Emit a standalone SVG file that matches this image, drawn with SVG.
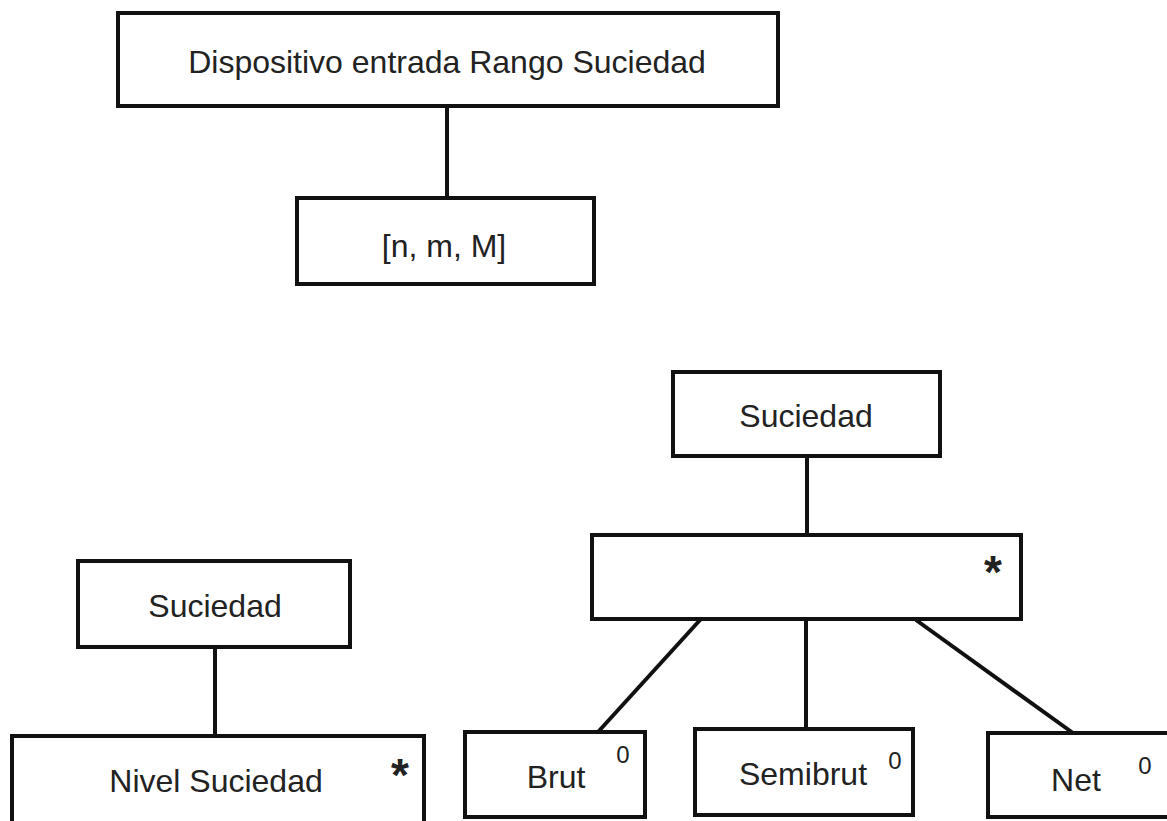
<svg xmlns="http://www.w3.org/2000/svg" width="1167" height="821" viewBox="0 0 1167 821">
<style>
.box{fill:#fff;stroke:#111;stroke-width:4}
.lbl{font-family:"Liberation Sans",Arial,sans-serif;font-size:32px;fill:#222;text-anchor:middle}
.sup{font-family:"Liberation Sans",Arial,sans-serif;font-size:24px;fill:#222;text-anchor:middle}
.star{font-family:"Liberation Sans",Arial,sans-serif;font-size:46px;font-weight:bold;fill:#222;text-anchor:middle}
.conn{stroke:#111;stroke-width:4;fill:none}
</style>
<rect width="1167" height="821" fill="#fff"/>
<g id="connectors">
<line class="conn" x1="447" y1="106" x2="447" y2="198"/>
<line class="conn" x1="807" y1="456" x2="807" y2="535"/>
<line class="conn" x1="700" y1="620" x2="598" y2="732"/>
<line class="conn" x1="806" y1="619" x2="806" y2="729"/>
<line class="conn" x1="916" y1="620" x2="1073" y2="733"/>
<line class="conn" x1="215" y1="647" x2="215" y2="736"/>
</g>
<g id="node-dispositivo">
<rect class="box" x="118" y="13" width="660" height="93"/>
<text class="lbl" x="447" y="73">Dispositivo entrada Rango Suciedad</text>
</g>
<g id="node-rango">
<rect class="box" x="297" y="198" width="297" height="86"/>
<text class="lbl" x="444" y="257">[n, m, M]</text>
</g>
<g id="node-suciedad-right">
<rect class="box" x="673" y="372" width="267" height="84"/>
<text class="lbl" x="806" y="427">Suciedad</text>
</g>
<g id="node-star">
<rect class="box" x="592" y="535" width="429" height="84"/>
<text class="star" x="993" y="588">*</text>
</g>
<g id="node-brut">
<rect class="box" x="465" y="732" width="180" height="85"/>
<text class="lbl" x="556" y="788">Brut</text>
<text class="sup" x="623" y="763">0</text>
</g>
<g id="node-semibrut">
<rect class="box" x="695" y="729" width="218" height="86"/>
<text class="lbl" x="803" y="785">Semibrut</text>
<text class="sup" x="895" y="769">0</text>
</g>
<g id="node-net">
<rect class="box" x="988" y="733" width="184" height="84"/>
<text class="lbl" x="1076" y="791">Net</text>
<text class="sup" x="1145" y="774">0</text>
</g>
<g id="node-suciedad-left">
<rect class="box" x="78" y="561" width="272" height="86"/>
<text class="lbl" x="215" y="617">Suciedad</text>
</g>
<g id="node-nivel">
<rect class="box" x="12" y="736" width="412" height="90"/>
<text class="lbl" x="216" y="792">Nivel Suciedad</text>
<text class="star" x="400" y="791">*</text>
</g>
</svg>
